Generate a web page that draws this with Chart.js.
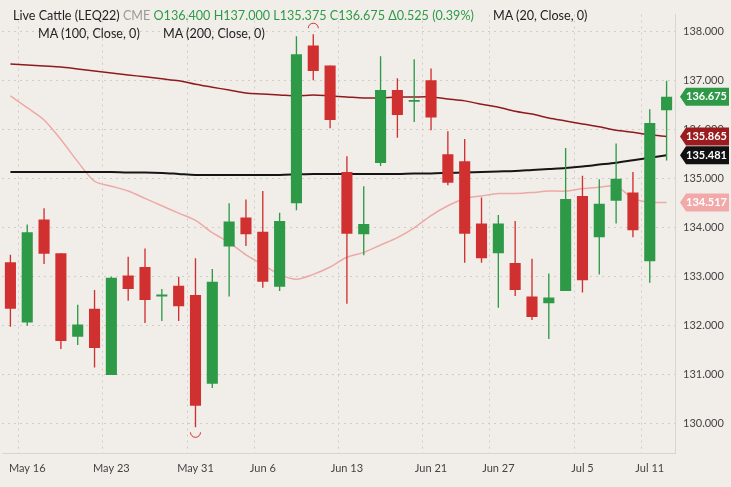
<!DOCTYPE html>
<html>
<head>
<meta charset="utf-8">
<script src="https://cdn.jsdelivr.net/npm/chart.js@4"></script>
<style>
  body { margin: 0; background: #f1eee9; font-family: Lato, "Open Sans", sans-serif; }
  #wrap { position: relative; width: 731px; height: 487px; }
  .hdr { position: absolute; font-size: 12.6px; color: #222; white-space: nowrap; }
  .g { color: #2e9a48; }
  .m { color: #999; }
</style>
</head>
<body>
<div id="wrap">
  <canvas id="chart" width="731" height="487"></canvas>
  <div class="hdr" style="left:13px;top:8px">Live Cattle (LEQ22) <span class="m">CME</span> <span class="g">O136.400 H137.000 L135.375 C136.675 Δ0.525 (0.39%)</span></div>
  <div class="hdr" style="left:493px;top:8px">MA (20, Close, 0)</div>
  <div class="hdr" style="left:38px;top:26px">MA (100, Close, 0)</div>
  <div class="hdr" style="left:163px;top:26px">MA (200, Close, 0)</div>
</div>
<script>
// trading days May 13 .. Jul 12, 2022
var dates = ['May 13','May 16','May 17','May 18','May 19','May 20','May 23','May 24','May 25','May 26','May 27',
  'May 31','Jun 1','Jun 2','Jun 3','Jun 6','Jun 7','Jun 8','Jun 9','Jun 10','Jun 13','Jun 14','Jun 15','Jun 16','Jun 17',
  'Jun 21','Jun 22','Jun 23','Jun 24','Jun 27','Jun 28','Jun 29','Jun 30','Jul 1','Jul 5','Jul 6','Jul 7','Jul 8','Jul 11','Jul 12'];
var tickDates = ['May 16','May 23','May 31','Jun 6','Jun 13','Jun 21','Jun 27','Jul 5','Jul 11'];

var open  = [133.30,132.07,134.17,133.48,131.78,132.35,131.00,133.03,133.20,132.60,132.82,132.63,130.82,133.62,134.21,133.92,132.80,134.50,137.72,137.31,
             135.14,133.87,135.32,136.81,136.57,137.01,135.50,135.36,134.09,133.48,133.28,132.60,132.46,132.71,134.65,133.81,134.55,134.72,133.32,136.40];
var close = [132.35,133.91,133.47,131.69,132.03,131.55,132.98,132.75,132.53,132.62,132.40,130.37,132.90,134.13,133.87,132.90,134.14,137.54,137.20,136.20,
             133.88,134.08,136.81,136.30,136.60,136.25,134.92,133.88,133.38,134.09,132.73,132.18,132.58,134.59,132.93,134.49,135.00,133.95,136.14,136.675];
var high  = [133.45,134.07,134.40,133.48,132.43,132.73,133.00,133.41,133.58,132.75,133.00,133.38,133.16,134.50,134.58,134.75,134.31,137.91,137.95,137.31,
             135.46,134.85,137.50,137.05,137.44,137.25,135.97,135.81,134.62,134.26,134.14,133.37,133.07,135.63,135.06,134.99,135.72,135.14,136.42,137.00];
var low   = [131.98,132.00,133.26,131.53,131.61,131.15,131.00,132.51,132.06,132.10,132.10,129.93,130.73,132.60,133.63,132.78,132.71,134.36,137.01,136.03,
             132.45,133.44,135.26,135.84,136.16,135.99,134.87,133.29,133.29,132.37,132.61,132.12,131.73,132.71,132.68,133.05,134.09,133.81,132.88,135.375];

var ma20  = [136.69,136.45,136.20,135.80,135.35,134.95,134.85,134.75,134.60,134.45,134.30,134.15,133.90,133.70,133.45,133.25,133.05,132.95,133.05,133.20,
             133.40,133.50,133.65,133.80,134.00,134.25,134.45,134.60,134.65,134.70,134.70,134.72,134.75,134.75,134.80,134.83,134.85,134.60,134.52,134.517];
var ma100 = [137.34,137.32,137.30,137.28,137.24,137.20,137.16,137.12,137.08,137.04,137.00,136.93,136.87,136.81,136.75,136.73,136.71,136.69,136.71,136.69,
             136.67,136.65,136.65,136.67,136.67,136.67,136.63,136.59,136.52,136.46,136.38,136.32,136.24,136.18,136.12,136.06,135.99,135.95,135.90,135.865];
var ma200 = [135.14,135.14,135.14,135.14,135.14,135.14,135.14,135.13,135.13,135.12,135.10,135.08,135.08,135.08,135.08,135.08,135.08,135.09,135.10,135.10,
             135.10,135.10,135.10,135.10,135.11,135.11,135.12,135.13,135.14,135.15,135.16,135.18,135.20,135.22,135.25,135.29,135.33,135.38,135.43,135.481];
var yTicks = [130,131,132,133,134,135,136,137,138];

var RED = '#d0302f', GREEN = '#2e9a48';
var bodies = [], wicks = [], cols = [];
for (var i = 0; i < dates.length; i++) {
  var a = open[i], b = close[i];
  if (Math.abs(a - b) < 0.04) b = a + (b >= a ? 0.04 : -0.04);
  bodies.push([a, b]);
  wicks.push([low[i], high[i]]);
  cols.push(close[i] >= open[i] ? GREEN : RED);
}

var tags = [
  { v: 136.675, bg: GREEN, fg: '#fff' },
  { v: 135.865, bg: '#9b1b1f', fg: '#fff' },
  { v: 135.481, bg: '#111', fg: '#fff' },
  { v: 134.517, bg: '#f2a9a9', fg: '#fff' }
];

var extras = {
  id: 'extras',
  afterDraw: function (chart) {
    var ctx = chart.ctx, y = chart.scales.y, x = chart.scales.x;
    ctx.save();
    // hi / lo markers
    ctx.strokeStyle = RED; ctx.lineWidth = 1;
    ctx.beginPath(); ctx.arc(x.getPixelForValue(18), y.getPixelForValue(high[18]) - 6, 5, Math.PI, 0); ctx.stroke();
    ctx.beginPath(); ctx.arc(x.getPixelForValue(11), y.getPixelForValue(low[11]) + 5, 5, 0, Math.PI); ctx.stroke();
    // price tags
    ctx.font = 'bold 11px Lato, sans-serif';
    ctx.textBaseline = 'middle';
    tags.forEach(function (t) {
      var py = y.getPixelForValue(t.v), l = 680, r = 729, h = 9;
      ctx.fillStyle = t.bg;
      ctx.beginPath();
      ctx.moveTo(l, py); ctx.lineTo(l + 6, py - h); ctx.lineTo(r, py - h);
      ctx.lineTo(r, py + h); ctx.lineTo(l + 6, py + h); ctx.closePath(); ctx.fill();
      ctx.fillStyle = t.fg; ctx.textAlign = 'left';
      ctx.fillText(t.v.toFixed(3), l + 6, py);
    });
    ctx.restore();
  }
};

new Chart(document.getElementById('chart'), {
  data: {
    labels: dates,
    datasets: [
      { type: 'line', data: ma200, borderColor: '#151515', borderWidth: 2, pointRadius: 0, tension: 0.3, order: 5 },
      { type: 'line', data: ma100, borderColor: '#8e1a1e', borderWidth: 1.5, pointRadius: 0, tension: 0.3, order: 5 },
      { type: 'line', data: ma20, borderColor: '#eda9a6', borderWidth: 1.5, pointRadius: 0, tension: 0.3, order: 5 },
      { type: 'bar', data: wicks, backgroundColor: cols, barPercentage: 0.08, categoryPercentage: 1, grouped: false, order: 2 },
      { type: 'bar', data: bodies, backgroundColor: cols, barPercentage: 0.66, categoryPercentage: 1, grouped: false, order: 1 }
    ]
  },
  options: {
    responsive: false,
    animation: false,
    layout: { padding: { left: 2, top: 0, bottom: 4 } },
    plugins: { legend: { display: false }, tooltip: { enabled: false } },
    scales: {
      x: {
        offset: true,
        border: { display: true, color: '#d8d5d0' },
        grid: {
          drawTicks: false,
          color: function (c) { return tickDates.indexOf(dates[c.index]) >= 0 ? '#cfccc6' : 'transparent'; }
        },
        border: { display: true, color: '#d8d5d0', dash: [2, 4] },
        ticks: {
          autoSkip: false, maxRotation: 0, padding: 8,
          color: '#444', font: { size: 11, family: 'Lato' },
          callback: function (v, i) { return tickDates.indexOf(dates[i]) >= 0 ? dates[i] : ''; }
        }
      },
      y: {
        position: 'right',
        min: 129.39, max: 138.35,
        afterBuildTicks: function (s) { s.ticks = yTicks.map(function (v) { return { value: v }; }); },
        afterFit: function (s) { s.width = 56; },
        border: { display: true, color: '#d8d5d0', dash: [2, 4] },
        grid: { color: '#cfccc6', drawTicks: false },
        ticks: {
          padding: 8, color: '#444', font: { size: 11, family: 'Lato' },
          callback: function (v) { return v.toFixed(3); }
        }
      }
    }
  },
  plugins: [extras]
});
</script>
</body>
</html>
